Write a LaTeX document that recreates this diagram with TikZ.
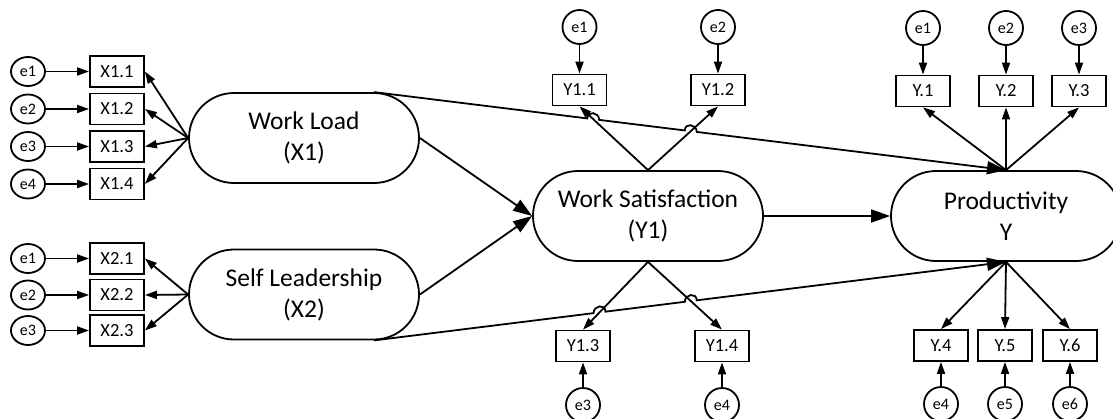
\documentclass[tikz,border=0pt]{standalone}
\usepackage{fontspec}
\setmainfont{Carlito}
\usetikzlibrary{arrows.meta,shapes.geometric,calc}

\begin{document}
\begin{tikzpicture}[x=1pt,y=-1pt,line width=1.8pt,
    latent/.style={draw,rectangle,rounded corners=45pt,minimum width=230pt,minimum height=90pt,
      inner sep=0pt,align=center,font=\fontsize{25.5}{31}\selectfont},
    ind/.style={draw,rectangle,minimum width=54pt,minimum height=31pt,inner sep=0pt,
      font=\fontsize{18.5}{20}\selectfont},
    err/.style={draw,ellipse,minimum width=34pt,minimum height=29pt,inner sep=0pt,
      font=\fontsize{16}{17}\selectfont},
    errc/.style={err,minimum height=34pt},
    big/.style={-{Triangle[length=19pt,width=13pt]}},
    small/.style={-{Triangle[length=12pt,width=8pt]}}]
    \useasboundingbox (0,0) rectangle (1113,418);
    \fill[white] (0,0) rectangle (1113,418);
    \clip (0,0) rectangle (1113,418);

    % latent variables
    \node[latent] (WL) at (304,138) {Work Load\\(X1)};
    \node[latent] (SL) at (304,294.5) {Self Leadership\\(X2)};
    \node[latent] (WS) at (648,216) {Work Satisfaction\\(Y1)};
    \node[latent] (PR) at (1006,216) {Productivity\\Y};

    % indicators of X1 and X2
    \foreach \i/\y in {1/71.5,2/109,3/146.5,4/184} {
      \node[ind] (X1\i) at (117,\y) {X1.\i};
      \node[err] (eX1\i) at (28,\y) {e\i};
      \draw[small] (eX1\i) -- (X1\i);
      \draw[small] (WL.west) -- (X1\i.east);
    }
    \foreach \i/\y in {1/258.5,2/295,3/330.5} {
      \node[ind] (X2\i) at (117,\y) {X2.\i};
      \node[err] (eX2\i) at (28,\y) {e\i};
      \draw[small] (eX2\i) -- (X2\i);
      \draw[small] (SL.west) -- (X2\i.east);
    }

    % indicators of Y1
    \foreach \i/\x in {1/579.5,2/718} {
      \node[ind] (Y1\i) at (\x,90) {Y1.\i};
      \node[errc] (eY1\i) at (\x,27) {e\i};
      \draw[small] (eY1\i) -- (Y1\i);
      \draw[small] (WS.north) -- (Y1\i.south);
    }
    \foreach \i/\x in {3/583,4/722} {
      \node[ind] (Y1\i) at (\x,346) {Y1.\i};
      \node[errc] (eY1\i) at (\x,405) {e\i};
      \draw[small] (eY1\i) -- (Y1\i);
      \draw[small] (WS.south) -- (Y1\i.north);
    }

    % indicators of Y
    \foreach \i/\x in {1/923,2/1006,3/1079} {
      \node[ind] (Y\i) at (\x,91) {Y.\i};
      \node[errc] (eY\i) at (\x,28) {e\i};
      \draw[small] (eY\i) -- (Y\i);
      \draw[small] (PR.north) -- (Y\i.south);
    }
    \foreach \i/\x in {4/941,5/1005,6/1070} {
      \node[ind] (Y\i) at (\x,345.5) {Y.\i};
      \node[errc] (eY\i) at (\x,404) {e\i};
      \draw[small] (eY\i) -- (Y\i);
      \draw[small] (PR.south) -- (Y\i.north);
    }

    % structural paths
    \draw[big] (WL.east) -- (WS.west);
    \draw[big] (SL.east) -- (WS.west);
    \draw[big] (WS.east) -- (PR.west);

    % direct paths to Y, jumping over the Y1 loadings
    \coordinate (wlt) at ([xshift=70pt]WL.north);
    \coordinate (slb) at ([xshift=70pt]SL.south);
    \coordinate (c1) at (intersection of wlt--PR.north and WS.north--Y11.south);
    \coordinate (c2) at (intersection of wlt--PR.north and WS.north--Y12.south);
    \coordinate (c3) at (intersection of slb--PR.south and WS.south--Y13.north);
    \coordinate (c4) at (intersection of slb--PR.south and WS.south--Y14.north);
    \draw[big] (wlt) -- ($(c1)!6pt!(wlt)$) .. controls +(0,-8) and +(0,-8) .. ($(c1)!6pt!(PR.north)$)
      -- ($(c2)!6pt!(wlt)$) .. controls +(0,-8) and +(0,-8) .. ($(c2)!6pt!(PR.north)$) -- (PR.north);
    \draw[big] (slb) -- ($(c3)!6pt!(slb)$) .. controls +(0,-8) and +(0,-8) .. ($(c3)!6pt!(PR.south)$)
      -- ($(c4)!6pt!(slb)$) .. controls +(0,-8) and +(0,-8) .. ($(c4)!6pt!(PR.south)$) -- (PR.south);
\end{tikzpicture}
\end{document}
